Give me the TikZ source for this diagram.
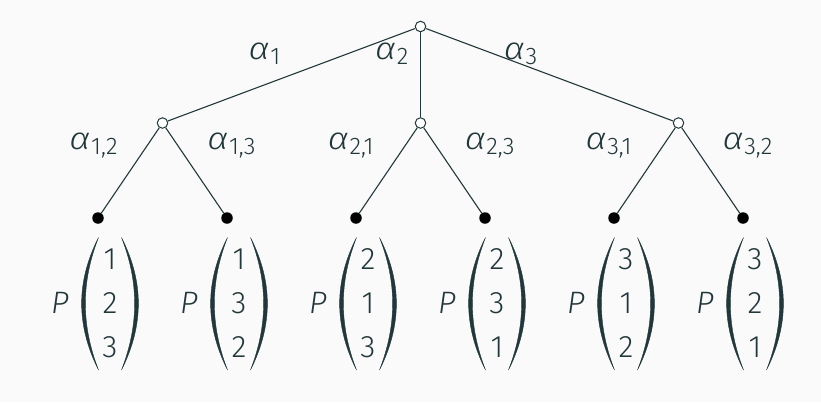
\documentclass[tikz,border=0pt]{standalone}
\usepackage{fontspec}
\setmainfont{Fira Sans Light}[ItalicFont={Fira Sans Light Italic}]
\definecolor{fg}{HTML}{23373B}
\definecolor{bg}{HTML}{FAFAFA}
\tikzset{
  open/.style={circle,draw=fg,fill=white,line width=1pt,inner sep=0pt,minimum size=10.5pt},
  leaf/.style={circle,fill=black,inner sep=0pt,minimum size=11.5pt},
  edge/.style={draw=fg,line width=1.1pt},
  lab/.style={text=fg,font=\fontsize{31}{34}\selectfont\itshape,inner sep=0pt,anchor=base},
  ent/.style={text=fg,font=\fontsize{31}{34}\selectfont,inner sep=0pt},
  pvar/.style={text=fg,font=\fontsize{31}{34}\selectfont\itshape,inner sep=0pt},
  paren/.style={fill=fg,draw=fg,line width=0.4pt},
}
\newcommand{\al}[1]{\scalebox{1.15}[1]{α}\kern0.5pt{\upshape\fontsize{24}{26}\selectfont\raisebox{-5pt}{#1}}}
\newcommand{\pmat}[5]{% name, cx, a, b, c
  \node[pvar] (#1p) at (#2-50,303) {P};
  \node[ent] (#1a) at (#2,259.5) {#3};
  \node[ent] (#1b) at (#2,303) {#4};
  \node[ent] (#1c) at (#2,347) {#5};
  \fill[paren] (#2-11.5,237.5) .. controls (#2-34,282) and (#2-34,325) .. (#2-11.5,370)
     .. controls (#2-29,325) and (#2-29,282) .. cycle;
  \fill[paren] (#2+11.5,237.5) .. controls (#2+34,282) and (#2+34,325) .. (#2+11.5,370)
     .. controls (#2+29,325) and (#2+29,282) .. cycle;
}
\begin{document}
\begin{tikzpicture}[x=1pt,y=-1pt]
\fill[bg] (0,0) rectangle (821,402);
\useasboundingbox (0,0) rectangle (821,402);
% nodes
\node[open] (r) at (420.5,26.5) {};
\node[open] (m1) at (162.5,123) {};
\node[open] (m2) at (420.5,123) {};
\node[open] (m3) at (678.5,123) {};
\node[leaf] (l1) at (98,218) {};
\node[leaf] (l2) at (227,218) {};
\node[leaf] (l3) at (356,218) {};
\node[leaf] (l4) at (485,218) {};
\node[leaf] (l5) at (614,218) {};
\node[leaf] (l6) at (743,218) {};
% edges
\draw[edge] (r) -- (m1);
\draw[edge] (r) -- (m2);
\draw[edge] (r) -- (m3);
\draw[edge] (m1) -- (l1);
\draw[edge] (m1) -- (l2);
\draw[edge] (m2) -- (l3);
\draw[edge] (m2) -- (l4);
\draw[edge] (m3) -- (l5);
\draw[edge] (m3) -- (l6);
% labels
\node[lab] (a1) at (264.5,59.5) {\al{1}};
\node[lab] (a2) at (391.7,59.5) {\al{2}};
\node[lab] (a3) at (520.6,59.5) {\al{3}};
\node[lab] (a12) at (93.5,149.5) {\al{1,2}};
\node[lab] (a13) at (231.5,149.5) {\al{1,3}};
\node[lab] (a21) at (350.7,149.5) {\al{2,1}};
\node[lab] (a23) at (489.7,149.5) {\al{2,3}};
\node[lab] (a31) at (608.5,149.5) {\al{3,1}};
\node[lab] (a32) at (747.5,149.5) {\al{3,2}};
% matrices
\pmat{p1}{110}{1}{2}{3}
\pmat{p2}{239}{1}{3}{2}
\pmat{p3}{368}{2}{1}{3}
\pmat{p4}{497}{2}{3}{1}
\pmat{p5}{626}{3}{1}{2}
\pmat{p6}{755}{3}{2}{1}
\end{tikzpicture}
\end{document}
